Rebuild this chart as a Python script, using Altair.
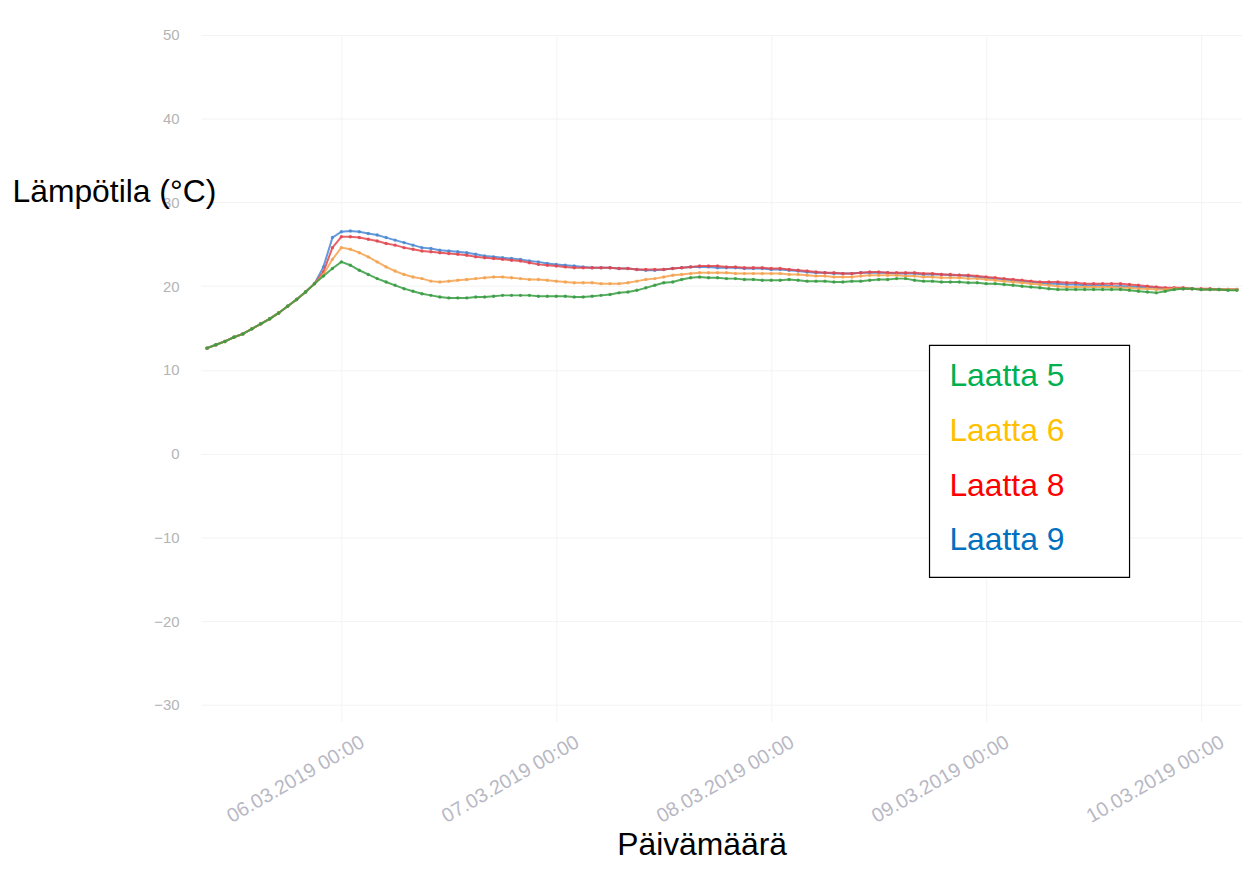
import altair as alt
import pandas as pd

# hourly readings 05.03.2019 09:00 ... 10.03.2019 04:00
times = pd.date_range("2019-03-05 09:00", periods=116, freq="h").strftime("%Y-%m-%dT%H:%M:%S").tolist()

rise = [12.6, 13.0, 13.4, 13.9, 14.3, 14.9, 15.5, 16.1, 16.8, 17.6, 18.4, 19.3, 20.3]

laatta5 = rise + [
    21.2, 22.1, 22.9, 22.5, 21.9, 21.4, 20.9, 20.5, 20.1, 19.7, 19.4, 19.1, 18.9, 18.7, 18.6, 18.6,
    18.6, 18.7, 18.7, 18.8, 18.9, 18.9, 18.9, 18.9, 18.8, 18.8, 18.8, 18.8, 18.7, 18.7, 18.8, 18.9,
    19.0, 19.2, 19.3, 19.5, 19.8, 20.1, 20.4, 20.5, 20.8, 21.0, 21.1, 21.0, 21.0, 20.9, 20.9, 20.8,
    20.8, 20.7, 20.7, 20.7, 20.8, 20.7, 20.6, 20.6, 20.6, 20.5, 20.5, 20.6, 20.6, 20.7, 20.8, 20.8,
    20.9, 20.9, 20.7, 20.6, 20.6, 20.5, 20.5, 20.5, 20.4, 20.4, 20.3, 20.3, 20.2, 20.1, 20.0, 19.9,
    19.8, 19.7, 19.6, 19.6, 19.6, 19.6, 19.6, 19.6, 19.6, 19.6, 19.5, 19.4, 19.3, 19.2, 19.4, 19.6,
    19.7, 19.7, 19.6, 19.6, 19.6, 19.5, 19.5]

laatta6 = rise + [
    21.4, 23.2, 24.6, 24.4, 24.0, 23.5, 22.9, 22.3, 21.8, 21.4, 21.1, 20.9, 20.6, 20.5, 20.6, 20.7,
    20.8, 20.9, 21.0, 21.1, 21.1, 21.0, 20.9, 20.8, 20.8, 20.7, 20.6, 20.5, 20.4, 20.4, 20.4, 20.3,
    20.3, 20.3, 20.4, 20.6, 20.8, 20.9, 21.1, 21.3, 21.4, 21.5, 21.6, 21.6, 21.6, 21.6, 21.5, 21.5,
    21.5, 21.5, 21.5, 21.5, 21.4, 21.4, 21.3, 21.2, 21.2, 21.1, 21.1, 21.1, 21.2, 21.3, 21.3, 21.3,
    21.3, 21.2, 21.2, 21.1, 21.1, 21.0, 21.0, 21.0, 20.9, 20.9, 20.8, 20.7, 20.6, 20.5, 20.4, 20.3,
    20.2, 20.1, 20.0, 19.9, 19.9, 19.9, 19.9, 19.9, 19.9, 19.8, 19.8, 19.7, 19.7, 19.6, 19.6, 19.7,
    19.7, 19.7, 19.6, 19.6, 19.6, 19.6, 19.6]

laatta8 = rise + [
    21.7, 24.6, 25.9, 25.9, 25.8, 25.6, 25.4, 25.1, 24.9, 24.6, 24.4, 24.2, 24.1, 24.0, 23.9, 23.8,
    23.7, 23.5, 23.4, 23.3, 23.2, 23.1, 23.0, 22.8, 22.6, 22.5, 22.4, 22.3, 22.2, 22.2, 22.2, 22.2,
    22.2, 22.1, 22.1, 22.0, 22.0, 22.0, 22.0, 22.1, 22.2, 22.3, 22.4, 22.4, 22.4, 22.3, 22.3, 22.2,
    22.2, 22.2, 22.1, 22.1, 22.0, 21.9, 21.8, 21.7, 21.6, 21.6, 21.5, 21.5, 21.6, 21.7, 21.7, 21.6,
    21.6, 21.6, 21.6, 21.5, 21.5, 21.4, 21.4, 21.3, 21.3, 21.2, 21.1, 21.0, 20.9, 20.8, 20.7, 20.6,
    20.5, 20.5, 20.5, 20.4, 20.4, 20.3, 20.3, 20.3, 20.3, 20.3, 20.2, 20.1, 20.0, 19.9, 19.8, 19.8,
    19.8, 19.7, 19.7, 19.7, 19.6, 19.6, 19.6]

laatta9 = rise + [
    22.3, 25.8, 26.5, 26.6, 26.5, 26.3, 26.1, 25.8, 25.5, 25.2, 24.9, 24.6, 24.5, 24.3, 24.2, 24.1,
    24.0, 23.8, 23.6, 23.5, 23.4, 23.3, 23.2, 23.0, 22.9, 22.7, 22.6, 22.5, 22.4, 22.3, 22.2, 22.2,
    22.2, 22.1, 22.1, 22.0, 21.9, 21.9, 22.0, 22.1, 22.2, 22.3, 22.3, 22.3, 22.2, 22.2, 22.2, 22.1,
    22.1, 22.1, 22.0, 22.0, 21.9, 21.8, 21.7, 21.6, 21.6, 21.5, 21.5, 21.5, 21.6, 21.6, 21.6, 21.6,
    21.5, 21.5, 21.5, 21.4, 21.4, 21.4, 21.3, 21.3, 21.2, 21.1, 21.0, 20.9, 20.8, 20.7, 20.6, 20.5,
    20.4, 20.3, 20.3, 20.2, 20.2, 20.1, 20.1, 20.1, 20.0, 20.0, 20.0, 19.9, 19.9, 19.8, 19.7, 19.7,
    19.7, 19.7, 19.6, 19.6, 19.6, 19.6, 19.6]

series_names = ["Laatta 5", "Laatta 6", "Laatta 8", "Laatta 9"]
series_values = [laatta5, laatta6, laatta8, laatta9]
line_colors = ["#379c42", "#f5a24f", "#e2464f", "#4a88d4"]
legend_colors = ["#00B050", "#FFC000", "#FF0000", "#0070C0"]
y_ticks = [-30, -20, -10, 0, 10, 20, 30, 40, 50]
day_ticks = ["2019-03-06", "2019-03-07", "2019-03-08", "2019-03-09", "2019-03-10"]

rows = []
for name, vals in zip(series_names, series_values):
    for t, v in zip(times, vals):
        rows.append({"aika": t, "sarja": name, "lampo": v})
df = pd.DataFrame(rows)

FONT = "Liberation Sans"

color_expr = " : ".join(
    f"datum.label == '{n}' ? '{c}'" for n, c in zip(series_names[:-1], legend_colors[:-1])
) + f" : '{legend_colors[-1]}'"

x_enc = alt.X(
    "aika:T",
    scale=alt.Scale(domain=[alt.DateTime(year=2019, month=3, date=5, hours=8, minutes=20),
                            alt.DateTime(year=2019, month=3, date=10, hours=4, minutes=34)]),
    axis=alt.Axis(
        values=[alt.DateTime(year=2019, month=3, date=int(d[-2:])) for d in day_ticks],
        format="%d.%m.%Y %H:%M",
        formatType="time",
        labelAngle=-30,
        labelAlign="right",
        labelBaseline="top",
        labelOffset=16,
        labelPadding=10,
        labelFontSize=20,
        labelColor="#b8b8c4",
        labelFont=FONT,
        ticks=False,
        domain=False,
        grid=True,
        gridColor="#f3f3f3",
        title="Päivämäärä",
        titleFont=FONT,
        titleFontSize=32,
        titleFontWeight="normal",
        titleColor="#000000",
        titleAlign="center",
        titleBaseline="alphabetic",
        titleX=503,
        titleY=134,
    ),
)
y_enc = alt.Y(
    "lampo:Q",
    scale=alt.Scale(domain=[-32, 50], nice=False, zero=False),
    axis=alt.Axis(
        values=y_ticks,
        labelFontSize=15,
        labelColor="#b4b4b4",
        labelFont=FONT,
        labelPadding=22,
        ticks=False,
        domain=False,
        grid=True,
        gridColor="#f3f3f3",
        title="Lämpötila (°C)",
        titleFont=FONT,
        titleFontSize=32,
        titleFontWeight="normal",
        titleColor="#000000",
        titleAngle=0,
        titleAlign="left",
        titleBaseline="middle",
        titleX=-190,
        titleY=157,
    ),
)
color_enc = alt.Color(
    "sarja:N",
    scale=alt.Scale(domain=series_names, range=line_colors),
    legend=alt.Legend(
        title=None,
        orient="none",
        legendX=720,
        legendY=327,
        padding=0,
        symbolSize=0,
        symbolOpacity=0,
        symbolStrokeWidth=0,
        labelOffset=0,
        labelFont=FONT,
        labelFontSize=32,
        labelColor=alt.ExprRef(color_expr),
        rowPadding=23,
        labelLimit=300,
    ),
)

box = alt.Chart(pd.DataFrame({"k": [0]})).mark_rect(
    fill="white", stroke="#000000", strokeWidth=1.2
).encode(x=alt.value(732), x2=alt.value(933), y=alt.value(312), y2=alt.value(545))

layers = [box]
for name in reversed(series_names):
    layers.append(
        alt.Chart(df).transform_filter(alt.datum.sarja == name).mark_line(
            strokeWidth=2, opacity=0.85,
            point=alt.OverlayMarkDef(filled=True, size=12, opacity=0.85),
        ).encode(x=x_enc, y=y_enc, color=color_enc)
    )

chart = alt.layer(*layers).properties(
    width=1046,
    height=690,
    autosize=alt.AutoSizeParams(type="none"),
    padding={"left": 194, "top": 25, "right": 0, "bottom": 138},
    background="white",
).configure_view(stroke=None)

chart.save("out.html", embed_options={"renderer": "svg", "actions": False})
